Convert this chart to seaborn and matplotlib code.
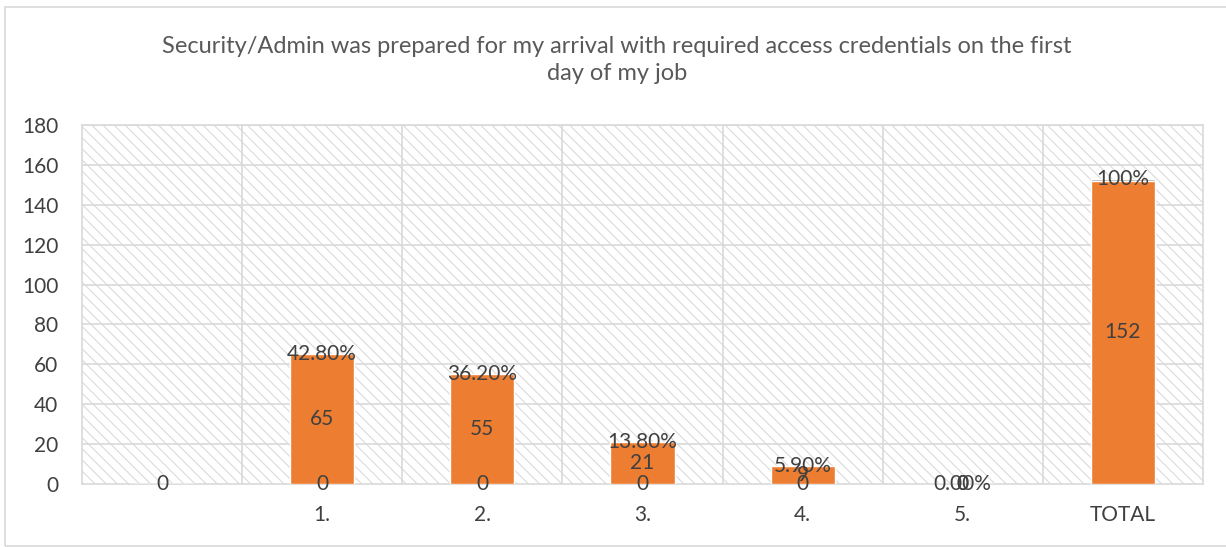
import matplotlib
matplotlib.use("Agg")
import matplotlib.pyplot as plt
import seaborn as sns
import pandas as pd
from matplotlib.patches import Rectangle

# Survey responses per rating
categories = ["", "1.", "2.", "3.", "4.", "5.", "TOTAL"]
counts = [0, 65, 55, 21, 9, 0, 152]
base_labels = ["", "0", "0", "0", "0", "0", ""]
shares = [0.0, 0.428, 0.362, 0.138, 0.059, 0.0, 1.0]
share_labels = ["", "42.80%", "36.20%", "13.80%", "5.90%", "0.00%", "100%"]
title = ("Security/Admin was prepared for my arrival with required access credentials on the first\n"
         "day of my job")

ORANGE = "#ED7D31"
GREY_BAR = "#A5A5A5"
GRID = "#D9D9D9"
TEXT = "#404040"

sns.set_style("white")
plt.rcParams["font.family"] = ["Lato", "DejaVu Sans"]
plt.rcParams["hatch.linewidth"] = 0.75

df = pd.DataFrame({
    "category": categories,
    "count": counts,
    "share": shares,
})
df["stacked"] = df["count"] + df["share"]

fig = plt.figure(figsize=(12.26, 5.47), dpi=100)
ax = fig.add_axes([82 / 1226, 1 - 484 / 547, (1203 - 82) / 1226, (484 - 125) / 547])

# hatched plot area background
ax.add_patch(Rectangle((0, 0), 1, 1, transform=ax.transAxes, facecolor="white",
                       edgecolor="#D8D8D8", hatch="\\\\\\", lw=0, zorder=0.2))

# stacked: share segment under the count bar
sns.barplot(data=df, x="category", y="stacked", order=categories, color=GREY_BAR,
            saturation=1, width=0.4, errorbar=None, ax=ax, zorder=3)
sns.barplot(data=df, x="category", y="count", order=categories, color=ORANGE,
            saturation=1, width=0.4, errorbar=None, ax=ax, zorder=4)

ax.set_ylim(0, 180)
ax.set_yticks(range(0, 181, 20))
ax.set_xlim(-0.5, len(categories) - 0.5)
ax.set_xlabel("")
ax.set_ylabel("")

# grid lines along values and between categories
for y in range(20, 181, 20):
    ax.axhline(y, color=GRID, lw=1.2, zorder=1)
for b in range(1, len(categories)):
    ax.axvline(b - 0.5, color=GRID, lw=1.2, zorder=1)

for s in ax.spines.values():
    s.set_color(GRID)
    s.set_linewidth(1.2)

ax.tick_params(axis="both", length=0, labelsize=15, labelcolor=TEXT)
ax.tick_params(axis="y", pad=17)
ax.tick_params(axis="x", pad=15)

# data labels
lab_kw = dict(ha="center", va="center", fontsize=15, color=TEXT, zorder=6)
for i, cat in enumerate(categories):
    if base_labels[i]:
        ax.text(i, 0, base_labels[i], **lab_kw)
    ax.text(i, counts[i] / 2, f"{counts[i]}", **lab_kw)
    if share_labels[i]:
        ax.text(i, counts[i] + shares[i], share_labels[i], **lab_kw)

fig.text(617 / 1226, 1 - 60 / 547, title, ha="center", va="center",
         fontsize=17, color="#595959", linespacing=1.3)

# chart frame
fig.patches.append(Rectangle((5 / 1226, 1 / 547), 1.0, 539 / 547, transform=fig.transFigure,
                             fill=False, edgecolor=GRID, lw=1.2, zorder=0))

fig.savefig("out.png", dpi=100)
